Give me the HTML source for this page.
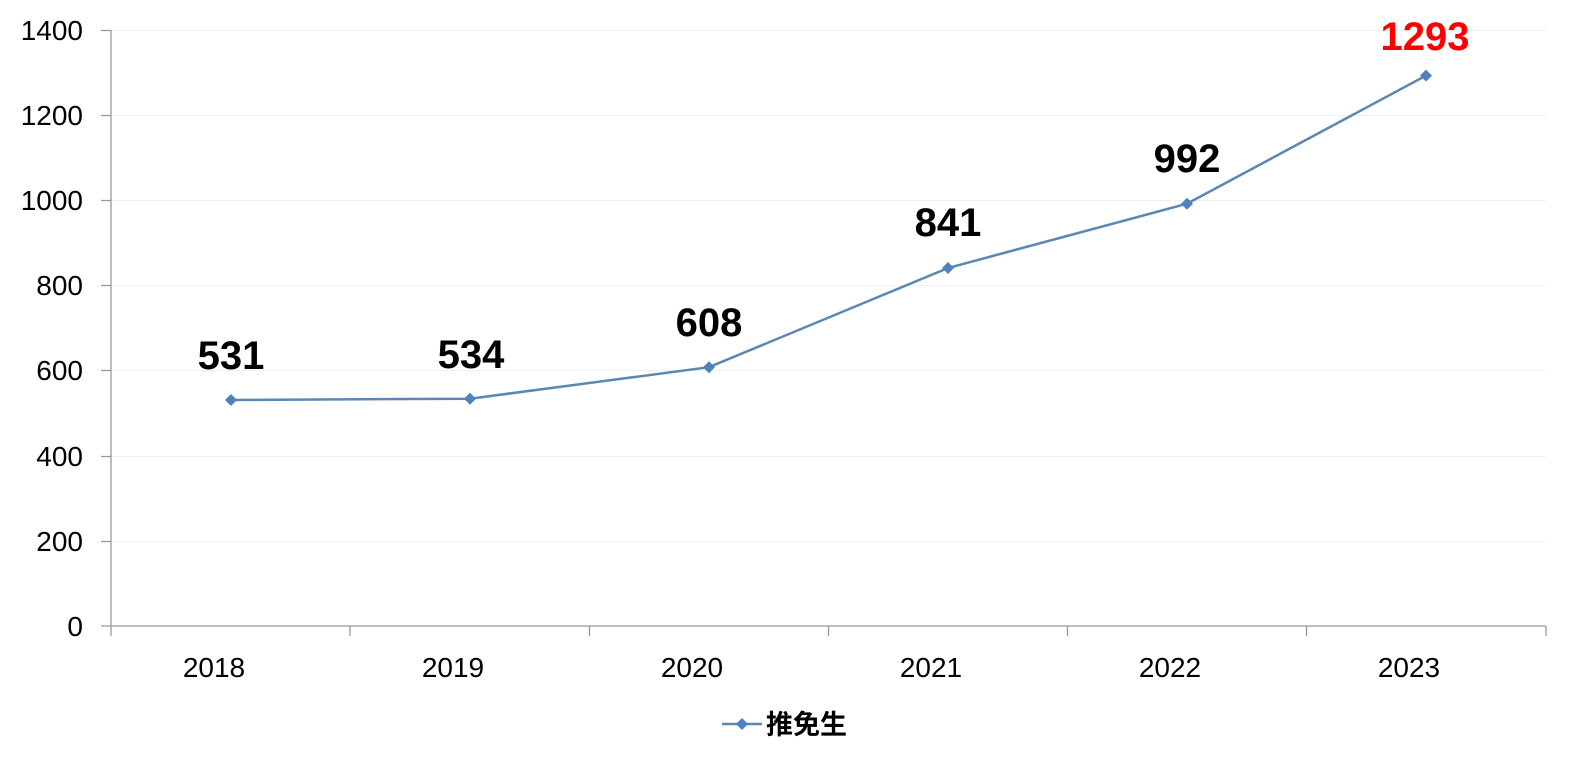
<!DOCTYPE html>
<html><head><meta charset="utf-8"><style>
html,body{margin:0;padding:0;background:#fff;}
svg{display:block;}
text{font-family:"Liberation Sans","Noto Sans CJK SC",sans-serif;}
</style></head><body>
<svg width="1576" height="765" viewBox="0 0 1576 765" xmlns="http://www.w3.org/2000/svg">
<g stroke="#efefef" stroke-width="1">
<line x1="111" y1="30.5" x2="1546" y2="30.5"/>
<line x1="111" y1="115.5" x2="1546" y2="115.5"/>
<line x1="111" y1="200.5" x2="1546" y2="200.5"/>
<line x1="111" y1="285.5" x2="1546" y2="285.5"/>
<line x1="111" y1="370.5" x2="1546" y2="370.5"/>
<line x1="111" y1="456.5" x2="1546" y2="456.5"/>
<line x1="111" y1="541.5" x2="1546" y2="541.5"/>
</g>
<g stroke="#999" stroke-width="1.3">
<line x1="111" y1="30" x2="111" y2="626"/>
<line x1="101" y1="626" x2="1546" y2="626"/>
<line x1="101" y1="30.5" x2="111" y2="30.5"/>
<line x1="101" y1="115.5" x2="111" y2="115.5"/>
<line x1="101" y1="200.5" x2="111" y2="200.5"/>
<line x1="101" y1="285.5" x2="111" y2="285.5"/>
<line x1="101" y1="370.5" x2="111" y2="370.5"/>
<line x1="101" y1="456.5" x2="111" y2="456.5"/>
<line x1="101" y1="541.5" x2="111" y2="541.5"/>
<line x1="111" y1="626" x2="111" y2="636"/>
<line x1="350" y1="626" x2="350" y2="636"/>
<line x1="589.5" y1="626" x2="589.5" y2="636"/>
<line x1="828.5" y1="626" x2="828.5" y2="636"/>
<line x1="1067.5" y1="626" x2="1067.5" y2="636"/>
<line x1="1306.5" y1="626" x2="1306.5" y2="636"/>
<line x1="1546" y1="626" x2="1546" y2="636"/>
</g>
<g font-size="28" fill="#000" text-anchor="end">
<text x="83" y="40">1400</text>
<text x="83" y="125">1200</text>
<text x="83" y="210">1000</text>
<text x="83" y="295">800</text>
<text x="83" y="380">600</text>
<text x="83" y="466">400</text>
<text x="83" y="551">200</text>
<text x="83" y="636">0</text>
</g>
<g font-size="28" fill="#000" text-anchor="middle">
<text x="214" y="677">2018</text>
<text x="453" y="677">2019</text>
<text x="692" y="677">2020</text>
<text x="931" y="677">2021</text>
<text x="1170" y="677">2022</text>
<text x="1409" y="677">2023</text>
</g>
<polyline fill="none" stroke="#5b87b0" stroke-width="2.5" points="231,400 470,398.7 709,367.2 948,268 1187,203.7 1426,75.6"/>
<g fill="#4f81bd">
<path d="M231,394 l6,6 l-6,6 l-6,-6z"/>
<path d="M470,392.7 l6,6 l-6,6 l-6,-6z"/>
<path d="M709,361.2 l6,6 l-6,6 l-6,-6z"/>
<path d="M948,262 l6,6 l-6,6 l-6,-6z"/>
<path d="M1187,197.7 l6,6 l-6,6 l-6,-6z"/>
<path d="M1426,69.6 l6,6 l-6,6 l-6,-6z"/>
</g>
<g font-size="40" font-weight="bold" fill="#000" text-anchor="middle">
<text x="231" y="369">531</text>
<text x="471" y="368">534</text>
<text x="709" y="336">608</text>
<text x="948" y="236">841</text>
<text x="1187" y="172">992</text>
<text x="1425" y="50" fill="#ff0000">1293</text>
</g>
<line x1="722" y1="724" x2="762" y2="724" stroke="#5b87b0" stroke-width="2.5"/>
<path d="M742,718 l6,6 l-6,6 l-6,-6z" fill="#4f81bd"/>
<text x="766" y="734" font-size="27" font-weight="bold" fill="#000">推免生</text>
</svg>
</body></html>
